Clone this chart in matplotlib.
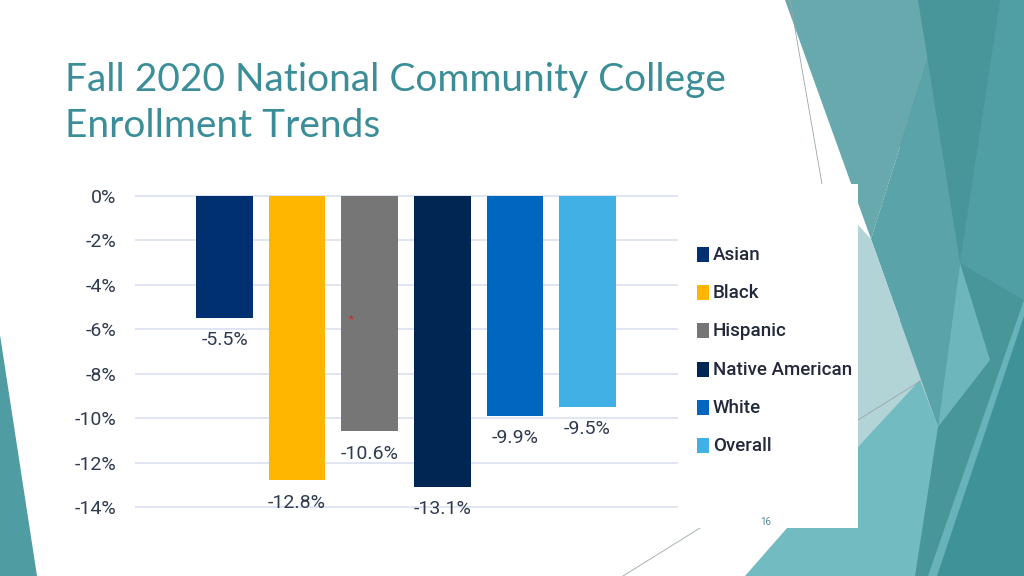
import numpy as np
import matplotlib
matplotlib.use('Agg')
import matplotlib.pyplot as plt
from matplotlib.patches import Polygon, Rectangle

plt.rcParams['font.family'] = ['Roboto', 'DejaVu Sans']

# Datos
grupos = ['Asian', 'Black', 'Hispanic', 'Native American', 'White', 'Overall']
cambio = [-5.5, -12.8, -10.6, -13.1, -9.9, -9.5]
colores = ['#003070', '#ffb600', '#767676', '#002654', '#0067c0', '#41b0e4']
ticks_y = [0, -2, -4, -6, -8, -10, -12, -14]
titulo = ['Fall 2020 National Community College', 'Enrollment Trends']
pagina = '16'

W, H = 1024, 576
fig = plt.figure(figsize=(W / 100, H / 100), dpi=100)
fig.patch.set_facecolor('white')


def px(pts):
    # pixeles (y hacia abajo) -> coordenadas de figura
    return [(x / W, 1 - y / H) for x, y in pts]


def forma(pts, color, z=0):
    fig.patches.append(Polygon(px(pts), closed=True, facecolor=color, edgecolor='none',
                               transform=fig.transFigure, zorder=z))


# Decoracion de la diapositiva
forma([(0, 335), (37, 576), (0, 576)], '#4f9da2')
forma([(900, 0), (1024, 0), (1024, 576), (900, 576)], '#48959a')
forma([(1000, 0), (1024, 0), (1024, 300), (960, 263)], '#4f9fa4')
forma([(785, 0), (918, 0), (927.5, 59), (871, 239)], '#68a9ad')
forma([(927.5, 59), (960, 263), (938, 427), (871, 239)], '#5aa3a8')
forma([(858, 225), (871, 239), (938, 427), (858, 455)], '#b3d4d6')
forma([(960, 263), (990, 360), (938, 427)], '#6cb6bc')
forma([(1024, 300), (1024, 576), (930, 576)], '#3f9297')
forma([(920, 380), (938, 427), (915, 576), (745, 576), (858, 447)], '#72bbc1')
forma([(1024, 300), (1024, 316), (937, 576), (928, 576)], '#67b3b9')
for a, b in [((790, 0), (822, 184)), ((623, 576), (700, 528)), ((858, 420), (922, 380))]:
    fig.add_artist(plt.Line2D([a[0] / W, b[0] / W], [1 - a[1] / H, 1 - b[1] / H],
                              color='#9aa6a8', lw=0.6, transform=fig.transFigure, zorder=1))

# Panel blanco de la leyenda
fig.patches.append(Rectangle((683 / W, 1 - 528 / H), 175 / W, 344 / H, facecolor='white',
                             edgecolor='none', transform=fig.transFigure, zorder=2))

# Titulo
for i, linea in enumerate(titulo):
    fig.text(65 / W, 1 - (80 + i * 46) / H, linea, fontsize=28, color='#3b8e97',
             va='center', ha='left', family=['Lato', 'DejaVu Sans'])

# Grafico de barras
escala = 22.2
ax = fig.add_axes([135 / W, 1 - (507 + 0.2 * escala) / H, 543 / W, (311 + 0.4 * escala) / H])
ax.set_zorder(3)
ax.patch.set_alpha(0)
x = np.arange(len(grupos))
ax.bar(x, cambio, width=0.78, color=colores, zorder=2)
for xi, v in zip(x, cambio):
    ax.annotate(f'{v:.1f}%', (xi, v), xytext=(0, -16), textcoords='offset points',
                ha='center', va='center', fontsize=14, color='#2f3b4f', annotation_clip=False)
ax.set_xlim(-1.233, 6.247)
ax.set_ylim(-14.2, 0.2)
ax.set_yticks(ticks_y)
ax.set_yticklabels([f'{t}%' for t in ticks_y])
ax.tick_params(axis='y', length=0, pad=13.5, labelsize=14, labelcolor='#2f3b4f')
ax.set_xticks([])
ax.grid(axis='y', color='#dce3f2', lw=1.3, zorder=0)
for s in ax.spines.values():
    s.set_visible(False)

# Marca roja pequena
fig.text(351 / W, 1 - 319 / H, '*', color='#e02020', fontsize=8, ha='center', va='center', zorder=4)

# Leyenda
for i, (g, c) in enumerate(zip(grupos, colores)):
    yc = 255 + i * 38.2
    fig.patches.append(Rectangle((697 / W, 1 - (yc + 7) / H), 12 / W, 15 / H, facecolor=c,
                                 edgecolor='none', transform=fig.transFigure, zorder=4))
    fig.text(713 / W, 1 - yc / H, g, fontsize=13.5, color='#22293a', va='center', ha='left',
             fontweight='medium', zorder=4)

fig.text(766 / W, 1 - 522 / H, pagina, fontsize=7, color='#4f8a90', ha='center', va='center', zorder=4)

fig.savefig('out.png', dpi=100)
